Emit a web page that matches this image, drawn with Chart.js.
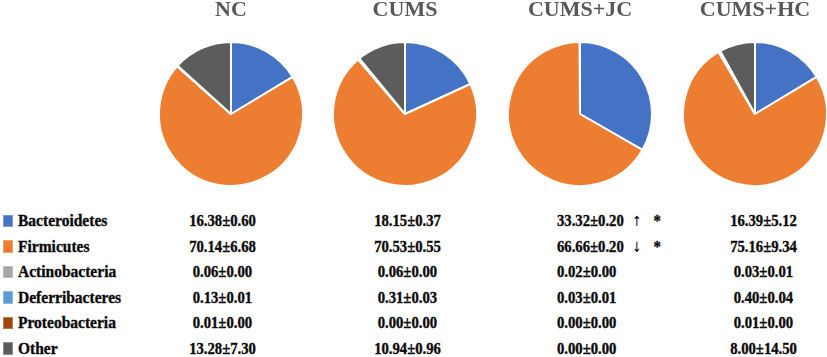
<!DOCTYPE html>
<html><head><meta charset="utf-8">
<script src="https://cdn.jsdelivr.net/npm/chart.js@4.4.1/dist/chart.umd.min.js"></script>
<style>
html,body{margin:0;padding:0;}
body{width:827px;height:357px;background:#fff;position:relative;overflow:hidden;font-family:"Liberation Serif","Times New Roman",serif;}
canvas.pie{position:absolute;top:-1px;}
.t{position:absolute;font-family:"Liberation Serif","Times New Roman",serif;font-weight:bold;white-space:nowrap;color:#0a0a0a;line-height:16px;height:16px;-webkit-text-stroke:0.35px #0a0a0a;}
.lab{font-size:16.5px;transform:scaleX(0.94);transform-origin:0 50%;}
.val{font-size:16.5px;transform:scaleX(0.89);}
.val.left{transform-origin:0 50%;}
.val.center{transform-origin:50% 50%;}
.t.mk{font-family:"DejaVu Sans",sans-serif;font-weight:normal;font-size:14px;color:#000;-webkit-text-stroke:0;transform:scaleX(0.8);font-variant-emoji:text;}
.sq{position:absolute;width:10px;height:12.5px;box-sizing:border-box;}
</style></head><body>
<canvas class="pie" id="p0" width="160" height="200"></canvas>
<canvas class="pie" id="p1" width="160" height="200"></canvas>
<canvas class="pie" id="p2" width="160" height="200"></canvas>
<canvas class="pie" id="p3" width="160" height="200"></canvas>
<div id="tbl"></div>
<script>
// ---- data ----
const groups = ['NC', 'CUMS', 'CUMS+JC', 'CUMS+HC'];
const phyla = ['Bacteroidetes', 'Firmicutes', 'Actinobacteria', 'Deferribacteres', 'Proteobacteria', 'Other'];
const meanNC   = [16.38, 70.14, 0.06, 0.13, 0.01, 13.28];
const sdNC     = [0.60, 6.68, 0.00, 0.01, 0.00, 7.30];
const meanCUMS = [18.15, 70.53, 0.06, 0.31, 0.00, 10.94];
const sdCUMS   = [0.37, 0.55, 0.00, 0.03, 0.00, 0.96];
const meanJC   = [33.32, 66.66, 0.02, 0.03, 0.00, 0.00];
const sdJC     = [0.20, 0.20, 0.00, 0.01, 0.00, 0.00];
const meanHC   = [16.39, 75.16, 0.03, 0.40, 0.01, 8.00];
const sdHC     = [5.12, 9.34, 0.01, 0.04, 0.00, 14.50];
const trendJC  = ['\u2191', '\u2193', '', '', '', ''];
const sigJC    = ['*', '*', '', '', '', ''];

// ---- style ----
const colors = ['#4472C4', '#ED7D31', '#A5A5A5', '#5B9BD5', '#9E480E', '#5C5C5C'];
const means = [meanNC, meanCUMS, meanJC, meanHC];
const sds = [sdNC, sdCUMS, sdJC, sdHC];
const pieCx = [231, 405, 580, 755];
const pieW = 160;

groups.forEach((g, i) => {
  const cv = document.getElementById('p' + i);
  cv.style.left = (pieCx[i] - pieW / 2) + 'px';
  new Chart(cv, {
    type: 'pie',
    data: {
      labels: phyla,
      datasets: [{
        data: means[i],
        backgroundColor: colors,
        borderColor: '#ffffff',
        borderWidth: 2,
        radius: 72
      }]
    },
    options: {
      responsive: false,
      animation: false,
      layout: { padding: 0 },
      plugins: {
        legend: { display: false },
        tooltip: { enabled: false },
        title: {
          display: true,
          text: g,
          color: '#585858',
          font: { family: 'Liberation Serif', size: 22, weight: 'bold', lineHeight: 1 },
          padding: { top: 0, bottom: 8 }
        }
      }
    }
  });
});

// ---- table ----
const tbl = document.getElementById('tbl');
const rowY0 = 221.2, rowDy = 25.5;
const colCenter = [222, 407, null, 763];
const jcLeft = 557, arrowX = 637, starX = 657;
function addText(txt, cls, x, y, align) {
  const d = document.createElement('div');
  d.className = 't ' + cls + ' ' + align;
  d.textContent = txt;
  d.style.top = (y - 8.1) + 'px';
  tbl.appendChild(d);
  if (align === 'center') {
    d.style.left = (x - d.offsetWidth / 2) + 'px';
  } else {
    d.style.left = x + 'px';
  }
  return d;
}
phyla.forEach((p, r) => {
  const y = rowY0 + r * rowDy;
  const sq = document.createElement('div');
  sq.className = 'sq';
  sq.style.left = '3px';
  sq.style.top = (y - 6.3) + 'px';
  sq.style.background = colors[r];
  sq.style.border = '1px solid rgba(255,255,255,0.3)';
  tbl.appendChild(sq);
  addText(p, 'lab', 18, y, 'left');
  for (let c = 0; c < 4; c++) {
    const s = means[c][r].toFixed(2) + '±' + sds[c][r].toFixed(2);
    if (c === 2) {
      addText(s, 'val', jcLeft, y, 'left');
      if (trendJC[r]) addText(trendJC[r], 'mk', arrowX, y, 'center');
      if (sigJC[r]) addText(sigJC[r], 'val', starX, y, 'center');
    } else {
      addText(s, 'val', colCenter[c], y, 'center');
    }
  }
});
</script>
</body></html>
